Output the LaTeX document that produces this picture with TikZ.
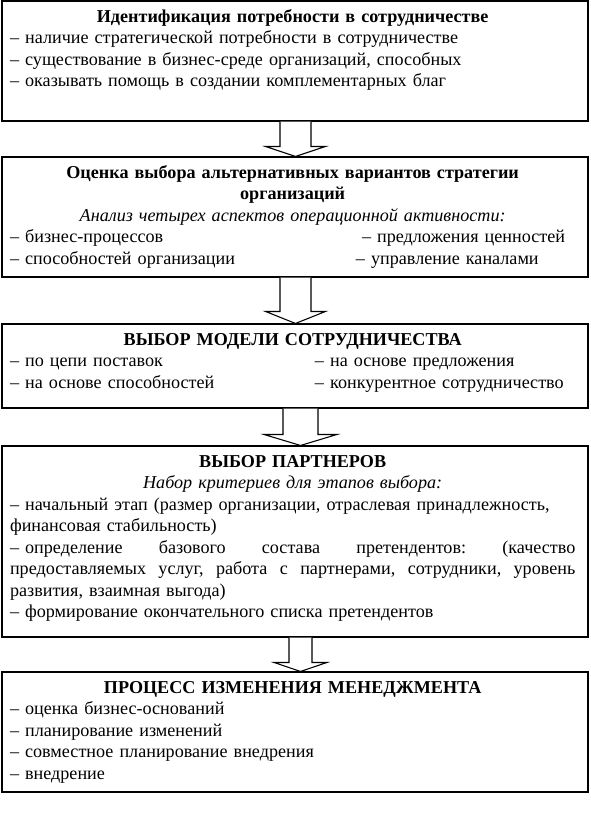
\documentclass[tikz,border=0pt]{standalone}
\usepackage{fontspec}
\setmainfont{Liberation Serif}
\usetikzlibrary{calc}

\begin{document}
\begin{tikzpicture}[
    x=0.75pt, y=-0.75pt, line width=0.8pt,
    stage/.style={draw, rectangle, inner sep=0pt, minimum width=439.5pt},
    stagetext/.style={anchor=north west, inner sep=0pt, xshift=6pt, yshift=-4.7pt,
      text width=424pt, align=left, font=\fontsize{13.6}{16.1}\selectfont}]
  % fixed 590 x 817 px canvas
  \path[use as bounding box] (0,0) rectangle (590,817);

  % ================= stage frames =================
  \node[stage, minimum height=90pt] (ident) at (295,61) {};
  \node[stage, minimum height=90pt] (strat) at (295,217) {};
  \node[stage, minimum height=63pt] (model) at (295,366) {};
  \node[stage, minimum height=143.25pt] (partner) at (295,541.5) {};
  \node[stage, minimum height=90pt] (change) at (295,732) {};

  % ================= 1) identification =================
  \node[stagetext] (ident-txt) at (ident.north west)
    {\strut\makebox[\hsize][c]{\textbf{Идентификация потребности в сотрудничестве}}\\
     – наличие стратегической потребности в сотрудничестве\\
     – существование в бизнес-среде организаций, способных\\
     – оказывать помощь в создании комплементарных благ};

  % ================= 2) strategy alternatives =================
  \node[stagetext] (strat-txt) at (strat.north west)
    {\strut\makebox[\hsize][c]{\textbf{Оценка выбора альтернативных вариантов стратегии}}\\
     \makebox[\hsize][c]{\textbf{организаций}}\\
     \makebox[\hsize][c]{\textit{Анализ четырех аспектов операционной активности:}}\\
     \makebox[264pt][l]{– бизнес-процессов}– предложения ценностей\\
     \makebox[259.5pt][l]{– способностей организации}– управление каналами};

  % ================= 3) cooperation model =================
  \node[stagetext] (model-txt) at (model.north west)
    {\strut\makebox[\hsize][c]{\textbf{ВЫБОР МОДЕЛИ СОТРУДНИЧЕСТВА}}\\
     \makebox[228.75pt][l]{– по цепи поставок}– на основе предложения\\
     \makebox[228.75pt][l]{– на основе способностей}– конкурентное сотрудничество};

  % ================= 4) partner choice =================
  \node[stagetext] (partner-txt) at (partner.north west)
    {\strut\makebox[\hsize][c]{\textbf{ВЫБОР ПАРТНЕРОВ}}\\
     \makebox[\hsize][c]{\textit{Набор критериев для этапов выбора:}}\\
     – начальный этап (размер организации, отраслевая принадлежность,\\
     финансовая стабильность)\\
     \makebox[\hsize][s]{– определение\hfill базового\hfill состава\hfill претендентов:\hfill (качество}\\
     \makebox[\hsize][s]{предоставляемых\hfill услуг,\hfill работа\hfill с\hfill партнерами,\hfill сотрудники,\hfill уровень}\\
     развития, взаимная выгода)\\
     – формирование окончательного списка претендентов};

  % ================= 5) change management =================
  \node[stagetext] (change-txt) at (change.north west)
    {\strut\makebox[\hsize][c]{\textbf{ПРОЦЕСС ИЗМЕНЕНИЯ МЕНЕДЖМЕНТА}}\\
     – оценка бизнес-оснований\\
     – планирование изменений\\
     – совместное планирование внедрения\\
     – внедрение};

  % ================= block arrows between stages =================
  % from/to/centre offset/shaft half/head half/head length (px)
  \foreach \a/\b/\dx/\s/\h/\l in {ident/strat/0.5/15.5/30/10,
                                  strat/model/0.5/15.5/30/12,
                                  model/partner/5.5/17.5/36.5/11,
                                  partner/change/5.5/11.5/26.5/9}
    \draw[fill=white]
      ($(\a.south)+(\dx-\s,0)$) -- ($(\b.north)+(\dx-\s,-\l)$)
      -- ($(\b.north)+(\dx-\h,-\l)$) -- ($(\b.north)+(\dx,0)$)
      -- ($(\b.north)+(\dx+\h,-\l)$) -- ($(\b.north)+(\dx+\s,-\l)$)
      -- ($(\a.south)+(\dx+\s,0)$);
\end{tikzpicture}
\end{document}
